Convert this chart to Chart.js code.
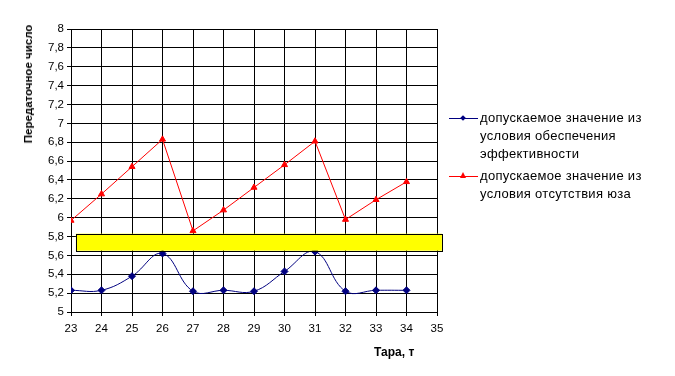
<!DOCTYPE html>
<html>
<head>
<meta charset="utf-8">
<script src="https://cdn.jsdelivr.net/npm/chart.js@4"></script>
<style>
  body { margin: 0; background: #fff; font-family: "Liberation Sans", Arial, sans-serif; }
  #wrap { position: relative; width: 675px; height: 376px; }
  #yTitle { position: absolute; left: 28px; top: 84px; transform: translate(-50%, -50%) rotate(-90deg);
            font-size: 11.5px; font-weight: bold; white-space: nowrap; }
  #xTitle { position: absolute; left: 374px; top: 345px; font-size: 12px; font-weight: bold; }
  #legend { position: absolute; left: 449px; top: 109px; font-size: 13px; letter-spacing: 0.3px; line-height: 18px; color: #000; }
  .item { position: relative; padding-left: 31px; margin-bottom: 4px; }
  .sample { position: absolute; left: 0; top: 9px; width: 29px; height: 0; border-top: 1px solid; }
  .dia { position: absolute; left: 12px; top: -3px; width: 4px; height: 4px; background: #000080; transform: rotate(45deg); }
  .tri { position: absolute; left: 11px; top: -5px; width: 0; height: 0; border-left: 3px solid transparent;
         border-right: 3px solid transparent; border-bottom: 6px solid #ff0000; }
</style>
</head>
<body>
<div id="wrap">
  <canvas id="line-chart" width="675" height="376"></canvas>
  <div id="yTitle">Передаточное число</div>
  <div id="xTitle">Тара, т</div>
  <div id="legend">
    <div class="item"><div class="sample" style="border-color:#000080"><div class="dia"></div></div>допускаемое значение из<br>условия обеспечения<br>эффективности</div>
    <div class="item"><div class="sample" style="border-color:#ff0000"><div class="tri"></div></div>допускаемое значение из<br>условия отсутствия юза</div>
  </div>
</div>
<script>
var tara = [23, 24, 25, 26, 27, 28, 29, 30, 31, 32, 33, 34];
var effValues = [5.23, 5.23, 5.38, 5.62, 5.22, 5.23, 5.22, 5.43, 5.64, 5.22, 5.23, 5.23];
var skidValues = [5.97, 6.25, 6.54, 6.83, 5.86, 6.08, 6.32, 6.56, 6.81, 5.98, 6.19, 6.38];
var bandX = [23.16, 35.16];
var bandY = [5.65, 5.83];

function points(vals) {
  return tara.map(function(t, i) { return { x: t, y: vals[i] }; });
}

// жёлтая полоса поверх графика
var bandPlugin = {
  id: 'band',
  afterDatasetsDraw: function(chart) {
    var ctx = chart.ctx, xs = chart.scales.x, ys = chart.scales.y;
    var x1 = xs.getPixelForValue(bandX[0]), x2 = xs.getPixelForValue(bandX[1]);
    var y1 = ys.getPixelForValue(bandY[1]), y2 = ys.getPixelForValue(bandY[0]);
    ctx.save();
    ctx.fillStyle = '#ffff00';
    ctx.strokeStyle = '#000';
    ctx.lineWidth = 1;
    ctx.fillRect(x1, y1, x2 - x1, y2 - y1);
    ctx.strokeRect(Math.round(x1) + 0.5, Math.round(y1) + 0.5, Math.round(x2 - x1), Math.round(y2 - y1));
    ctx.restore();
  }
};

new Chart(document.getElementById("line-chart"), {
  type: 'line',
  data: {
    datasets: [{
        data: points(effValues),
        borderColor: '#000080',
        backgroundColor: '#000080',
        borderWidth: 1,
        pointStyle: 'rectRot',
        pointRadius: 3.5,
        tension: 0.4,
        fill: false
      }, {
        data: points(skidValues),
        borderColor: '#ff0000',
        backgroundColor: '#ff0000',
        borderWidth: 1,
        pointStyle: 'triangle',
        pointRadius: 3.5,
        tension: 0,
        fill: false
      }]
  },
  options: {
    responsive: false,
    animation: false,
    plugins: { legend: { display: false }, tooltip: { enabled: false } },
    layout: { padding: { top: 29, right: 238, left: 0, bottom: 0 } },
    scales: {
      x: {
        type: 'linear', min: 23, max: 35,
        afterFit: function(s) { s.height = 64; },
        ticks: { stepSize: 1, color: '#000', font: { family: 'Liberation Sans', size: 11.5 }, maxRotation: 0, padding: 6 },
        grid: { color: '#000', lineWidth: 1, tickLength: 4 },
        border: { color: '#000' }
      },
      y: {
        min: 5, max: 8,
        afterFit: function(s) { s.width = 71; },
        ticks: {
          stepSize: 0.2, color: '#000', font: { family: 'Liberation Sans', size: 11.5 }, padding: 3,
          callback: function(v) { return (Math.round(v * 10) / 10).toString().replace('.', ','); }
        },
        grid: { color: '#000', lineWidth: 1, tickLength: 4 },
        border: { color: '#000' }
      }
    }
  },
  plugins: [bandPlugin]
});
</script>
</body>
</html>
